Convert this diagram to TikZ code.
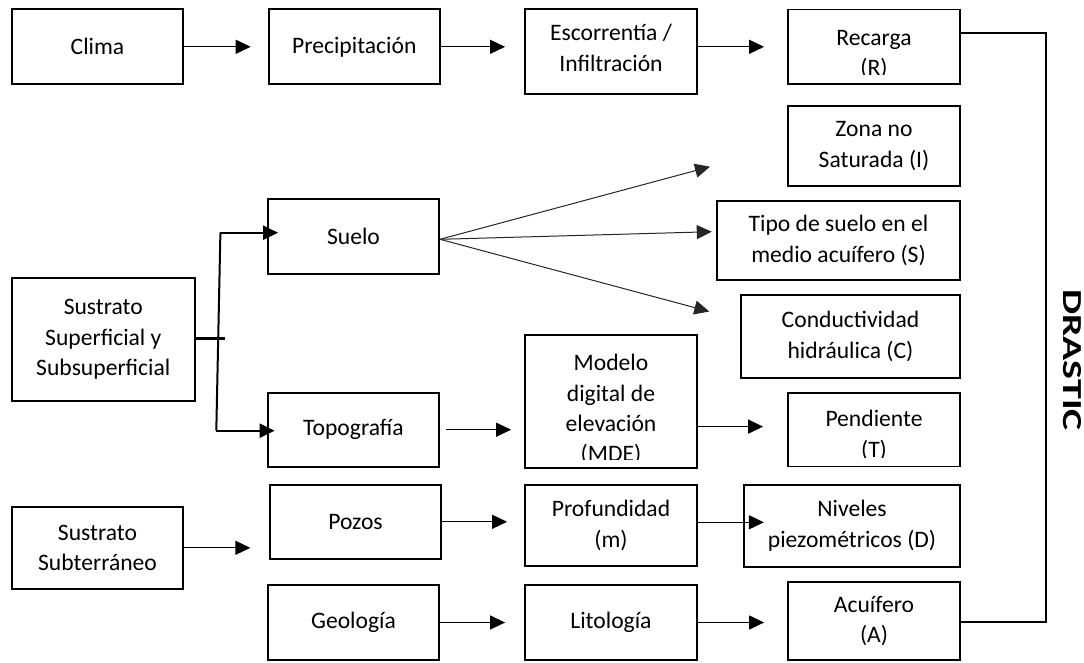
\documentclass[tikz,border=0pt]{standalone}
\usepackage{fontspec}
\setmainfont{Carlito}
\usetikzlibrary{arrows.meta,calc}
\begin{document}
\begin{tikzpicture}[x=1pt,y=-1pt,
  box/.style={draw, line width=1.8pt, inner sep=0pt, align=center, font=\fontsize{23.6}{30.4}\selectfont},
  txt/.style={inner sep=0pt, align=center, font=\fontsize{23.6}{30.4}\selectfont},
  arr/.style={line width=1.3pt, -{Triangle[length=15pt,width=14pt]}},
  fan/.style={line width=1pt, draw=black!85, -{Triangle[length=15pt,width=14pt]}},
  jn/.style={line width=2pt},
  ]
\useasboundingbox (0,0) rectangle (1084,662);
% top row
\node[box, minimum width=171pt, minimum height=75pt] (clima) at (97.5,46.8) {Clima};
\node[box, minimum width=171.4pt, minimum height=75pt] (prec) at (354.3,46.8) {Precipitación};
\node[box, minimum width=172pt, minimum height=84.7pt] (esc) at (611,51.7) {};
\node[txt] at (611,48) {Escorrentía /\\Infiltración};
\node[box, minimum width=172pt, minimum height=74.5pt] (rec) at (874,46.8) {};
\begin{scope}
  \clip (rec.north west) rectangle ($(rec.south east)+(0,-10.5)$);
  \node[txt, anchor=base] at (874,45) {Recarga};
  \node[txt, anchor=base] at (874,75.6) {(R)};
\end{scope}
% right column
\node[box, minimum width=172pt, minimum height=80pt] (zona) at (874,146) {Zona no\\Saturada (I)};
\node[box, minimum width=243pt, minimum height=79.3pt] (tipo) at (838.5,240.3) {Tipo de suelo en el\\medio acuífero (S)};
\node[box, minimum width=219pt, minimum height=82.7pt] (cond) at (850.5,336.3) {Conductividad\\hidráulica (C)};
\node[box, minimum width=172pt, minimum height=73.8pt] (pend) at (874,429.6) {};
\begin{scope}
  \clip (pend.north west) rectangle ($(pend.south east)+(0,-10)$);
  \node[txt, anchor=base] at (874,426.7) {Pendiente};
  \node[txt, anchor=base] at (874,457.3) {(T)};
\end{scope}
\node[box, minimum width=172pt, minimum height=133.3pt] (mde) at (611,401.7) {};
\begin{scope}
  \clip (mde.north west) rectangle ($(mde.south east)+(0,-10)$);
  \node[txt, anchor=base] at (611,370.7) {Modelo};
  \node[txt, anchor=base] at (611,401.1) {digital de};
  \node[txt, anchor=base] at (611,431.5) {elevación};
  \node[txt, anchor=base] at (611,461.9) {(MDE)};
\end{scope}
% middle
\node[box, minimum width=171pt, minimum height=75pt] (suelo) at (353.5,236.8) {Suelo};
\node[box, minimum width=171pt, minimum height=74pt] (topo) at (353.5,429.7) {Topografía};
\node[box, minimum width=182.6pt, minimum height=123.3pt] (sup) at (103.3,339.3) {Sustrato\\Superficial y\\Subsuperficial};
% lower rows
\node[box, minimum width=171pt, minimum height=82.3pt] (sub) at (97.5,547.8) {Sustrato\\Subterráneo};
\node[box, minimum width=170.5pt, minimum height=73.7pt] (pozos) at (355.5,521.8) {Pozos};
\node[box, minimum width=172pt, minimum height=80.7pt] (prof) at (611,525.3) {Profundidad\\(m)};
\node[box, minimum width=216pt, minimum height=81.7pt] (niv) at (852,525.8) {Niveles\\piezométricos (D)};
\node[box, minimum width=171pt, minimum height=75pt] (geo) at (353.5,622.5) {Geología};
\node[box, minimum width=172pt, minimum height=75pt] (lit) at (611,622.5) {Litología};
\node[box, minimum width=172pt, minimum height=78.3pt] (acu) at (874,620.8) {Acuífero\\(A)};
% DRASTIC label
\node[rotate=-90, xscale=1.45, inner sep=0pt, font=\bfseries\fontsize{27.5}{30}\selectfont] (dr) at (1072,360) {DRASTIC};

% arrows top row
\draw[arr, shorten >=17pt] (clima.east) -- (clima.east -| prec.west);
\draw[arr, shorten >=19pt] (prec.east) -- (prec.east -| esc.west);
\draw[arr, shorten >=23pt] (esc.east |- rec.west) -- (rec.west);
% junction
\coordinate (jt) at (224.5,338.3);
\coordinate (j1) at (220.4,232.7);
\coordinate (j2) at (216.3,430.7);
\draw[line width=3pt] (sup.east |- jt) -- (jt);
\draw[jn] (j1) -- (j2);
\draw[jn, -{Triangle[length=15pt,width=14pt]}, shorten >=-11pt] (j1) -- (j1 -| suelo.west);
\draw[jn, -{Triangle[length=15pt,width=14pt]}, shorten >=-7.5pt] (j2) -- (j2 -| topo.west);
% fan from Suelo
\coordinate (fs) at (440,239.3);
\coordinate (fz) at (710,166.7);
\coordinate (ft) at (711.8,231.7);
\coordinate (fc) at (709.3,311.5);
\draw[fan] (fs) -- (fz);
\draw[fan] (fs) -- (ft);
\draw[fan] (fs) -- (fc);
% topo -> mde -> pend
\draw[arr, shorten <=6pt, shorten >=13pt] (topo.east) -- (topo.east -| mde.west);
\draw[arr, shorten >=24pt] ($(mde.east |- pend.west)+(0,-3)$) -- ($(pend.west)+(0,-3)$);
% lower arrows
\draw[arr, shorten >=19pt] (sub.east) -- (sub.east -| pozos.west);
\draw[arr, shorten >=17pt] (pozos.east) -- (pozos.east -| prof.west);
\draw[arr, shorten >=-20.8pt] ($(prof.east)+(0,-3)$) -- ($(prof.east -| niv.west)+(0,-3)$);
\draw[arr, shorten >=19pt] (geo.east) -- (geo.east -| lit.west);
\draw[arr, shorten >=23pt] (lit.east) -- (lit.east -| acu.west);
% right connector
\coordinate (r1) at (1046,33.3);
\coordinate (r2) at (1046,621.7);
\draw[jn] (rec.east |- r1) -- (r1) -- (r2) -- (r2 -| acu.east);
\end{tikzpicture}
\end{document}
